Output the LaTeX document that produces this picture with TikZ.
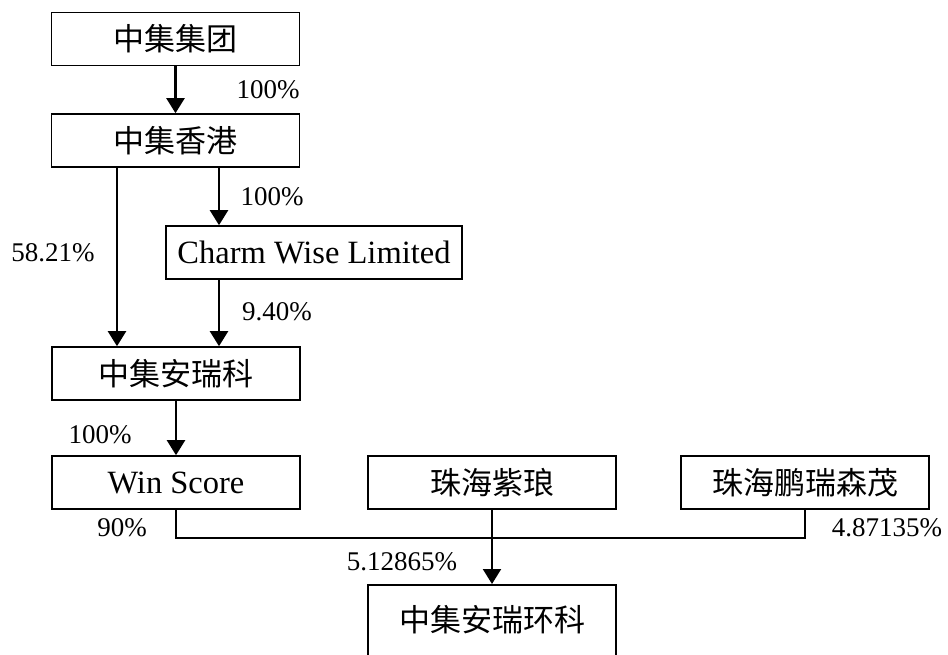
\documentclass[tikz,border=0pt]{standalone}
\usepackage{fontspec}
\setmainfont{Liberation Serif}
\newfontfamily\cjk{Noto Sans CJK SC}
\usetikzlibrary{arrows.meta}
\begin{document}
\begin{tikzpicture}[x=1pt,y=-1pt,
  box/.style={draw,line width=1.6pt,minimum width=248pt,minimum height=53pt,inner sep=0pt,font=\fontsize{32.5}{32.5}\selectfont},
  conn/.style={line width=2.2pt},
  arr/.style={conn,-{Triangle[width=18pt,length=15pt]}},
  lbl/.style={font=\fontsize{27}{27}\selectfont,inner sep=0pt}]
\useasboundingbox (0,0) rectangle (948,655);
\node[box] (jt) at (175.5,39) {\cjk\fontsize{31}{31}\selectfont 中集集团};
\node[box] (hk) at (175.5,140.5) {\cjk\fontsize{31}{31}\selectfont 中集香港};
\node[box,minimum width=296pt] (cw) at (314,252.5) {Charm Wise Limited};
\node[box] (ark) at (176,373.5) {\cjk\fontsize{31}{31}\selectfont 中集安瑞科};
\node[box] (ws) at (176,482.5) {Win Score};
\node[box] (zl) at (492,482.5) {\cjk\fontsize{31}{31}\selectfont 珠海紫琅};
\node[box] (pr) at (805,482.5) {\cjk\fontsize{31}{31}\selectfont 珠海鹏瑞森茂};
\node[box,minimum height=76pt,anchor=north] (bot) at (492,584) {};
\node[font=\fontsize{31}{31}\selectfont,inner sep=0pt] (bott) at (492,620) {\cjk 中集安瑞环科};
\coordinate (xa) at (219,0);
\coordinate (xb) at (117,0);
\coordinate (jy) at (0,538);
\draw[arr] (jt) -- (hk);
\draw[arr] (xa |- hk.south) -- (xa |- cw.north);
\draw[arr] (xb |- hk.south) -- (xb |- ark.north);
\draw[arr] (xa |- cw.south) -- (xa |- ark.north);
\draw[arr] (ark) -- (ws);
\draw[conn] (ws.south) -- (ws.south |- jy) -- (pr.south |- jy) -- (pr.south);
\draw[arr] (zl.south) -- (bot.north);
\node[lbl] (l1) at (268,90) {100\%};
\node[lbl] (l2) at (272,197) {100\%};
\node[lbl] (l3) at (53,253) {58.21\%};
\node[lbl] (l4) at (277,312) {9.40\%};
\node[lbl] (l5) at (100,435) {100\%};
\node[lbl] (l6) at (122,528) {90\%};
\node[lbl] (l7) at (402,562) {5.12865\%};
\node[lbl] (l8) at (887,528) {4.87135\%};
\end{tikzpicture}
\end{document}
